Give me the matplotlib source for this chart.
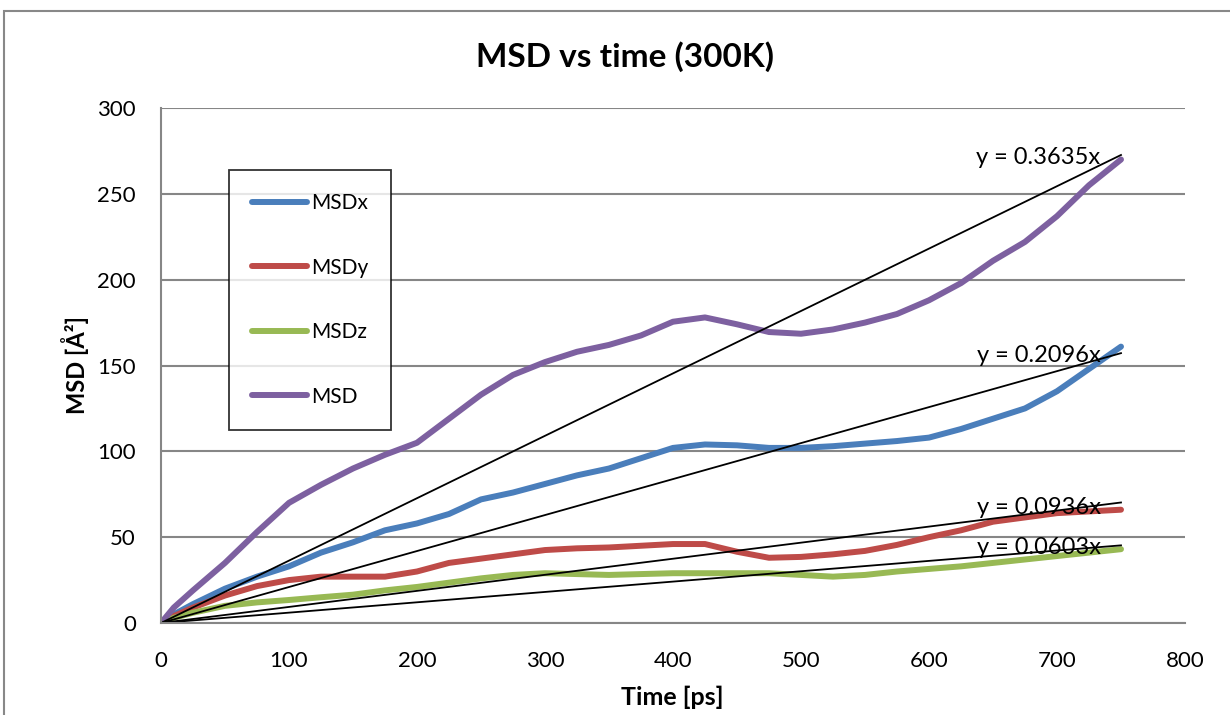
import numpy as np
import matplotlib.pyplot as plt
from matplotlib.patches import Rectangle

plt.rcParams['font.family'] = ['Lato', 'DejaVu Sans']

# time axis [ps]
time = [0, 10, 25, 50, 75, 100, 125, 150, 175, 200, 225, 250, 275, 300, 325, 350,
        375, 400, 425, 450, 475, 500, 525, 550, 575, 600, 625, 650, 675, 700, 725, 750]

msd_x = [0, 5, 11, 20, 27, 33, 41, 47, 54, 58, 63.5, 72, 76, 81, 86, 90,
         96, 102, 104, 103.5, 102, 102, 103, 104.5, 106, 108, 113, 119, 125, 135, 148, 161]
msd_y = [0, 4, 9, 16, 21.5, 25, 27, 27, 27, 30, 35, 37.5, 40, 42.5, 43.5, 44,
         45, 46, 46, 41.5, 38, 38.5, 40, 42, 45.5, 50, 54, 59, 61.5, 64, 65, 66]
msd_z = [0, 3, 6, 10, 12, 13.4, 15, 16.5, 19, 21, 23.5, 26, 28, 29, 28.5, 28,
         28.5, 29, 29, 29, 29, 28, 27, 28, 30, 31.5, 33, 35, 37, 39, 41, 43]
msd = [0, 9, 19, 35, 53, 70, 80.5, 90, 98, 105, 119, 133, 144.5, 152, 158, 162,
       167.5, 175.5, 178, 174, 169.5, 168.5, 171, 175, 180, 188, 198, 211, 222, 237, 255, 270]

labels = ['MSDx', 'MSDy', 'MSDz', 'MSD']
colors = ['#4A7EBB', '#BE4B48', '#98B954', '#7D60A0']
slopes = [0.2096, 0.0936, 0.0603, 0.3635]
eq_y = [156, 67, 43.7, 271]

fig = plt.figure(figsize=(12.3, 7.15), dpi=100)
fig.patches.append(Rectangle((4 / 1230, -0.1), 2, 1.1 - 11 / 715, transform=fig.transFigure,
                             fill=False, edgecolor='#888888', linewidth=1.5))

ax = fig.add_axes([161 / 1230, 1 - 623 / 715, 1024 / 1230, 515 / 715])

series = [msd_x, msd_y, msd_z, msd]
for vals, lab, col in zip(series, labels, colors):
    ax.plot(time, vals, color=col, linewidth=4.3, label=lab, solid_capstyle='round',
            solid_joinstyle='round')

# linear trend lines through the origin
t_fit = np.array([0, 750])
for s, ey in zip(slopes, eq_y):
    ax.plot(t_fit, s * t_fit, color='black', linewidth=1.3)
    ax.text(734, ey, 'y = %.4fx' % s, ha='right', va='center', fontsize=17)

ax.set_xlim(0, 800)
ax.set_ylim(0, 300)
ax.set_xticks(range(0, 801, 100))
ax.set_yticks(range(0, 301, 50))
ax.grid(axis='y', color='#868686', linewidth=1.5)
ax.set_axisbelow(True)
for side in ['top', 'right']:
    ax.spines[side].set_visible(False)
for side in ['left', 'bottom']:
    ax.spines[side].set_color('#868686')
    ax.spines[side].set_linewidth(1.5)
ax.tick_params(axis='both', length=0, labelsize=16)
ax.tick_params(axis='x', pad=20)
ax.tick_params(axis='y', pad=18)

fig.text(0.508, 1 - 57 / 715, 'MSD vs time (300K)', ha='center', va='center',
         fontsize=24, fontweight='bold')
fig.text(75 / 1230, 1 - 365 / 715, 'MSD [Å²]', ha='center', va='center', rotation=90,
         fontsize=17, fontweight='bold')
fig.text(672 / 1230, 1 - 697 / 715, 'Time [ps]', ha='center', va='center',
         fontsize=18, fontweight='bold')

leg = ax.legend(loc='upper left', bbox_to_anchor=(229 / 1230, 1 - 170 / 715),
                bbox_transform=fig.transFigure, fontsize=15, frameon=True, fancybox=False,
                edgecolor='black', borderpad=1.1, labelspacing=2.14, handlelength=2.65,
                handletextpad=0.2, borderaxespad=0)
leg.get_frame().set_linewidth(1.3)

fig.savefig('out.png', dpi=100)
